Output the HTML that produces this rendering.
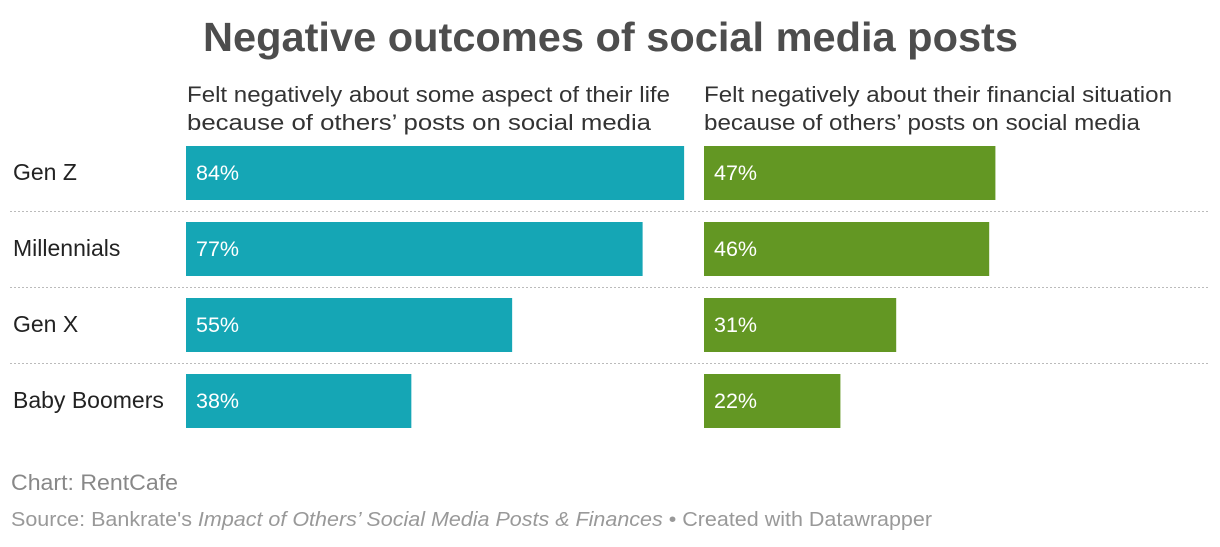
<!DOCTYPE html>
<html><head><meta charset="utf-8"><style>
body{margin:0;width:1220px;height:542px;background:#fff;font-family:"Liberation Sans",sans-serif;overflow:hidden}
svg text{font-family:"Liberation Sans",sans-serif}
</style></head><body>
<svg width="1220" height="542">
<text x="203" y="51" font-size="41" font-weight="bold" fill="#4d4d4d" textLength="815" lengthAdjust="spacingAndGlyphs">Negative outcomes of social media posts</text>
<text x="187" y="102" font-size="22.5" fill="#333" textLength="483" lengthAdjust="spacingAndGlyphs">Felt negatively about some aspect of their life</text>
<text x="187" y="130" font-size="22.5" fill="#333" textLength="464" lengthAdjust="spacingAndGlyphs">because of others’ posts on social media</text>
<text x="704" y="102" font-size="22.5" fill="#333" textLength="468" lengthAdjust="spacingAndGlyphs">Felt negatively about their financial situation</text>
<text x="704" y="130" font-size="22.5" fill="#333" textLength="436" lengthAdjust="spacingAndGlyphs">because of others’ posts on social media</text>
<g id="rows"></g>
<text x="11" y="490" font-size="22" fill="#888" textLength="167" lengthAdjust="spacingAndGlyphs">Chart: RentCafe</text>
<text x="11" y="526" font-size="20" fill="#999" textLength="921" lengthAdjust="spacingAndGlyphs">Source: Bankrate's <tspan font-style="italic">Impact of Others’ Social Media Posts &amp; Finances</tspan> • Created with Datawrapper</text>
</svg>
<script>
const categories=["Gen Z","Millennials","Gen X","Baby Boomers"];
const lifeValues=[84,77,55,38];
const financeValues=[47,46,31,22];
const ns="http://www.w3.org/2000/svg";
const g=document.getElementById("rows");
const x1=v=>v*5.93, x2=v=>v*6.2;
const rowY=i=>146+i*76;
function mk(t,a){const e=document.createElementNS(ns,t);for(const k in a)e.setAttribute(k,a[k]);g.appendChild(e);return e;}
categories.forEach((c,i)=>{
 const y=rowY(i);
 const l=mk("text",{x:13,y:y+34,"font-size":23,fill:"#222"});l.textContent=c;
 
 
 const b1=mk("rect",{x:186,y:y,width:x1(lifeValues[i]),height:54,fill:"#15a6b5"});
 
 
 const t1=mk("text",{x:196,y:y+34,"font-size":21.5,fill:"#fff"});t1.textContent=lifeValues[i]+"%";
 
 
 const b2=mk("rect",{x:704,y:y,width:x2(financeValues[i]),height:54,fill:"#639723"});
 
 
 const t2=mk("text",{x:714,y:y+34,"font-size":21.5,fill:"#fff"});t2.textContent=financeValues[i]+"%";
 
 
 if(i<categories.length-1){
  const s=mk("line",{x1:10,x2:1210,y1:y+65.5,y2:y+65.5,stroke:"#bbb","stroke-width":1,"stroke-dasharray":"2,2"});
  
  
 }
});
</script>
</body></html>
